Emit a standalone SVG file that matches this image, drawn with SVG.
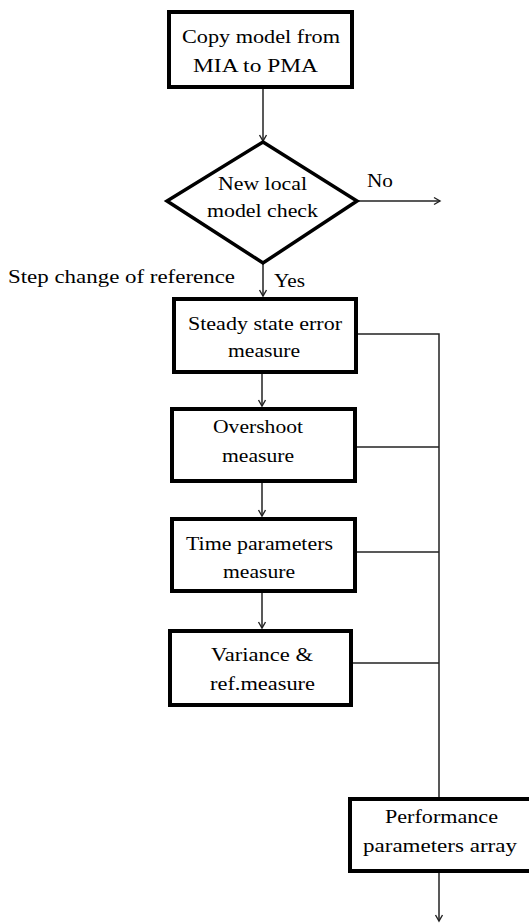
<svg xmlns="http://www.w3.org/2000/svg" width="529" height="923" viewBox="0 0 529 923">
<style>
.box{fill:#fff;stroke:#000;stroke-width:4}
text{font-family:"Times New Roman","Liberation Serif","DejaVu Serif",serif;font-size:19.5px;fill:#000}
.ln{fill:none;stroke:#222;stroke-width:1.5}
</style>
<defs>
<marker id="ah" markerUnits="userSpaceOnUse" markerWidth="12" markerHeight="12" viewBox="-8 -6 10 12" refX="0" refY="0" orient="auto">
<path d="M-6,-3.5 L0,0 L-6,3.5" fill="none" stroke="#222" stroke-width="1.4"/>
</marker>
</defs>
<rect width="529" height="923" fill="#fff"/>
<g id="connectors">
<path class="ln" d="M263,89 V141" marker-end="url(#ah)"/>
<path class="ln" d="M357,201 H440" marker-end="url(#ah)"/>
<path class="ln" d="M263,263 V296" marker-end="url(#ah)"/>
<path class="ln" d="M262,374 V406" marker-end="url(#ah)"/>
<path class="ln" d="M262,483 V516" marker-end="url(#ah)"/>
<path class="ln" d="M262,593 V628" marker-end="url(#ah)"/>
<path class="ln" d="M358,334 H439 V797"/>
<path class="ln" d="M357,447 H439"/>
<path class="ln" d="M357,552 H439"/>
<path class="ln" d="M353,663 H439"/>
<path class="ln" d="M439,873 V921" marker-end="url(#ah)"/>
<text x="367" y="187" textLength="26" lengthAdjust="spacingAndGlyphs">No</text>
<text x="274" y="287" textLength="31" lengthAdjust="spacingAndGlyphs">Yes</text>
<text x="8" y="283" textLength="227" lengthAdjust="spacingAndGlyphs">Step change of reference</text>
</g>
<g id="copy">
<rect class="box" x="169" y="12" width="183" height="75"/>
<text x="182" y="43" textLength="158" lengthAdjust="spacingAndGlyphs">Copy model from</text>
<text x="193" y="72" textLength="125" lengthAdjust="spacingAndGlyphs">MIA to PMA</text>
</g>
<g id="check">
<polygon points="263,142 357,201 263,263 167,201" fill="#fff" stroke="#000" stroke-width="3.5"/>
<text x="218" y="190" textLength="89" lengthAdjust="spacingAndGlyphs">New local</text>
<text x="207" y="217" textLength="111" lengthAdjust="spacingAndGlyphs">model check</text>
</g>
<g id="sse">
<rect class="box" x="174" y="299" width="182" height="73"/>
<text x="188" y="330" textLength="154" lengthAdjust="spacingAndGlyphs">Steady state error</text>
<text x="228" y="357" textLength="72" lengthAdjust="spacingAndGlyphs">measure</text>
</g>
<g id="overshoot">
<rect class="box" x="172" y="409" width="183" height="72"/>
<text x="213" y="433" textLength="90" lengthAdjust="spacingAndGlyphs">Overshoot</text>
<text x="222" y="462" textLength="72" lengthAdjust="spacingAndGlyphs">measure</text>
</g>
<g id="time">
<rect class="box" x="172" y="519" width="183" height="72"/>
<text x="186" y="550" textLength="147" lengthAdjust="spacingAndGlyphs">Time parameters</text>
<text x="223" y="578" textLength="72" lengthAdjust="spacingAndGlyphs">measure</text>
</g>
<g id="variance">
<rect class="box" x="170" y="631" width="181" height="74"/>
<text x="211" y="661" textLength="102" lengthAdjust="spacingAndGlyphs">Variance &amp;</text>
<text x="210" y="690" textLength="105" lengthAdjust="spacingAndGlyphs">ref.measure</text>
</g>
<g id="perf">
<rect class="box" x="350" y="799" width="200" height="72"/>
<text x="385" y="823" textLength="113" lengthAdjust="spacingAndGlyphs">Performance</text>
<text x="363" y="852" textLength="154" lengthAdjust="spacingAndGlyphs">parameters array</text>
</g>
</svg>
